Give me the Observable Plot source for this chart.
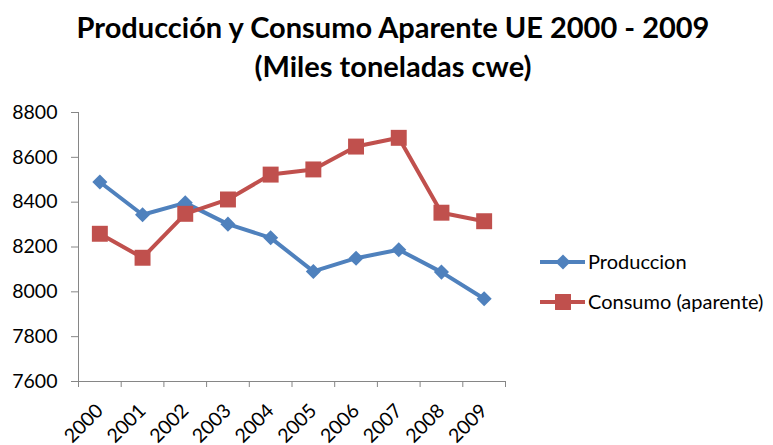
<!DOCTYPE html>
<html><head><meta charset="utf-8">
<script src="https://cdn.jsdelivr.net/npm/d3@7"></script>
<script src="https://cdn.jsdelivr.net/npm/@observablehq/plot@0.6"></script>
<style>body{margin:0;background:#fff}</style>
</head><body><div id="chart"></div>
<script>
const years = [2000, 2001, 2002, 2003, 2004, 2005, 2006, 2007, 2008, 2009];
const produccion = [8490, 8344, 8397, 8302, 8241, 8091, 8150, 8188, 8088, 7969];
const consumo = [8259, 8152, 8348, 8412, 8523, 8546, 8648, 8687, 8353, 8315];
const yTicks = [7600, 7800, 8000, 8200, 8400, 8600, 8800];
const seriesNames = ["Produccion", "Consumo (aparente)"];
const colors = ["#4F81BD", "#C0504D"];
const symbols = ["diamond2", "square"];
const titleLines = ["Producción y Consumo Aparente UE 2000 - 2009", "(Miles toneladas cwe)"];

const prodData = years.map((year, i) => ({year, value: produccion[i]}));
const consData = years.map((year, i) => ({year, value: consumo[i]}));
const bounds = [...years.map(y => y - 0.5), years[years.length - 1] + 0.5];
const axisColor = "#868686";

const plot = Plot.plot({
  width: 773, height: 445,
  marginTop: 112, marginBottom: 64, marginLeft: 78, marginRight: 268,
  style: {fontFamily: "Lato", fontSize: "19px", color: "#000", background: "#fff"},
  x: {domain: [bounds[0], bounds[bounds.length - 1]]},
  y: {domain: [yTicks[0], yTicks[yTicks.length - 1]]},
  marks: [
    Plot.axisY({ticks: yTicks, tickSize: 7, tickPadding: 14, stroke: axisColor, fill: "#000", label: null, tickFormat: d => String(d), fontSize: 19.5}),
    Plot.axisX({ticks: bounds, tickSize: 6, stroke: axisColor, tickFormat: () => "", label: null}),
    Plot.axisX({ticks: years, tickSize: 0, tickRotate: -45, tickPadding: 26, fill: "#000", label: null, tickFormat: d => String(d), fontSize: 19.5}),
    Plot.ruleX([bounds[0]], {stroke: axisColor}),
    Plot.ruleY([yTicks[0]], {stroke: axisColor}),
    Plot.line(prodData, {x: "year", y: "value", stroke: colors[0], strokeWidth: 4}),
    Plot.line(consData, {x: "year", y: "value", stroke: colors[1], strokeWidth: 4}),
    Plot.dot(prodData, {x: "year", y: "value", symbol: symbols[0], r: 6.8, fill: colors[0], stroke: "none"}),
    Plot.dot(consData, {x: "year", y: "value", symbol: symbols[1], r: 9, fill: colors[1], stroke: "none"})
  ]
});
document.getElementById("chart").appendChild(plot);

const svg = d3.select(plot);
// Title
const t = svg.append("text")
  .attr("x", 393).attr("text-anchor", "middle")
  .style("font-family", "Lato").style("font-weight", "bold").style("font-size", "29px").attr("fill", "#000");
t.append("tspan").attr("x", 393).attr("y", 38).text(titleLines[0]);
t.append("tspan").attr("x", 393).attr("y", 77).text(titleLines[1]);

// Legend
const legendY = [262, 302];
seriesNames.forEach((name, i) => {
  const g = svg.append("g").attr("transform", `translate(0,${legendY[i]})`);
  g.append("line").attr("x1", 540).attr("x2", 585).attr("y1", 0).attr("y2", 0)
    .attr("stroke", colors[i]).attr("stroke-width", 4);
  const sym = i === 0 ? d3.symbolDiamond2 : d3.symbolSquare;
  const r = i === 0 ? 6.8 : 9;
  g.append("path").attr("d", d3.symbol(sym, Math.PI * r * r)())
    .attr("transform", "translate(563,0)").attr("fill", colors[i]);
  g.append("text").attr("x", 588).attr("y", 0).attr("dy", "0.35em").attr("text-anchor", "start")
    .style("font-family", "Lato").style("font-size", "20px").attr("fill", "#000").text(name);
});
</script>
</body></html>
